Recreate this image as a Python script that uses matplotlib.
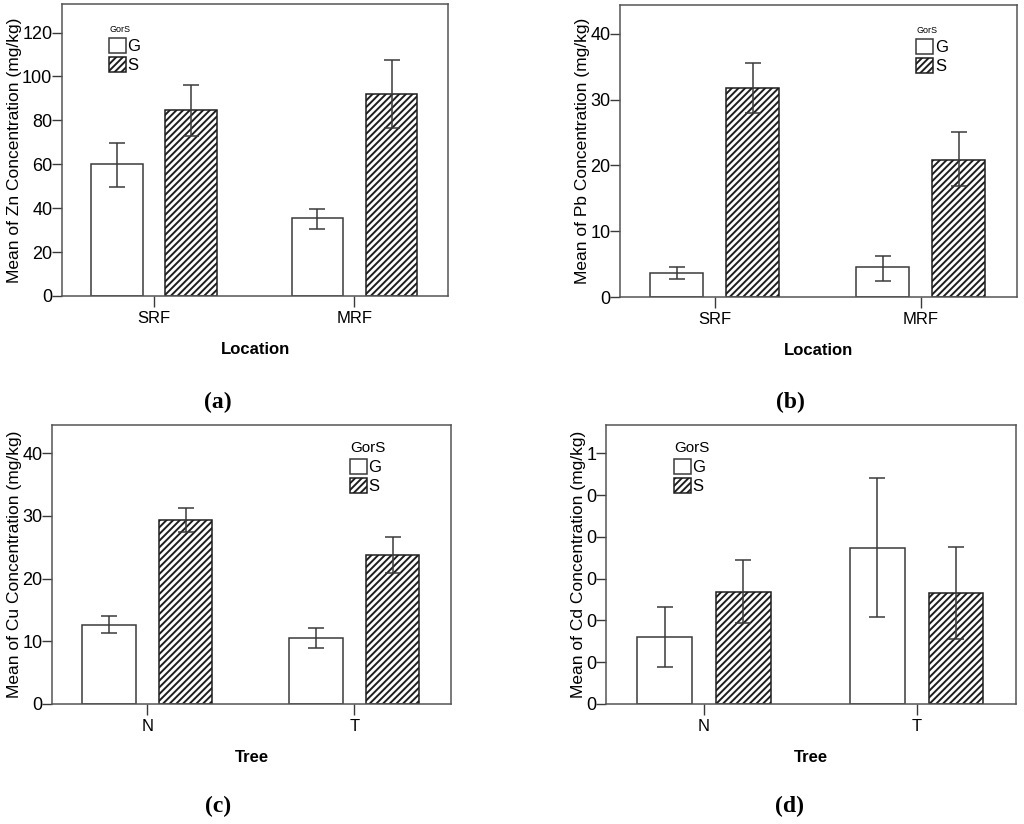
import matplotlib.pyplot as plt
from matplotlib.ticker import FormatStrFormatter
import numpy as np

plt.rcParams['font.family'] = ['Liberation Sans', 'DejaVu Sans']
plt.rcParams['hatch.linewidth'] = 1.4

locations = ['SRF', 'MRF']
trees = ['N', 'T']
groups = ['G', 'S']

# mean, lower CI, upper CI
zn_mean = {'G': [60.0, 35.3], 'S': [84.5, 92.1]}
zn_low = {'G': [49.8, 30.7], 'S': [73.0, 76.6]}
zn_high = {'G': [69.9, 39.7], 'S': [96.0, 107.3]}

pb_mean = {'G': [3.7, 4.5], 'S': [31.8, 20.9]}
pb_low = {'G': [2.7, 2.5], 'S': [28.0, 16.9]}
pb_high = {'G': [4.6, 6.3], 'S': [35.6, 25.1]}

cu_mean = {'G': [12.6, 10.6], 'S': [29.4, 23.7]}
cu_low = {'G': [11.3, 8.9], 'S': [27.4, 20.9]}
cu_high = {'G': [14.0, 12.2], 'S': [31.2, 26.7]}

cd_mean = {'G': [0.161, 0.374], 'S': [0.268, 0.266]}
cd_low = {'G': [0.088, 0.208], 'S': [0.194, 0.155]}
cd_high = {'G': [0.233, 0.540], 'S': [0.344, 0.377]}

EDGE = '#3a3a3a'


def panel(rect, cats, mean, low, high, ylim, yticks, ylabel, xlabel,
          leg_xy, title_size, tag, tag_xy, fmt=None):
    ax = fig.add_axes(rect)
    x = np.arange(len(cats))
    width = 0.257
    offsets = {'G': -0.185, 'S': 0.185}
    for g in groups:
        m = np.array(mean[g])
        err = np.array([m - np.array(low[g]), np.array(high[g]) - m])
        if g == 'S':
            ax.bar(x + offsets[g], m, width, color='white', edgecolor='#1e1e1e',
                   linewidth=1.1, hatch='/////', label=g, zorder=2)
        else:
            ax.bar(x + offsets[g], m, width, color='white', edgecolor=EDGE,
                   linewidth=1.1, label=g, zorder=2)
        ax.errorbar(x + offsets[g], m, yerr=err, fmt='none', ecolor=EDGE,
                    elinewidth=1.1, capsize=6, capthick=1.1, zorder=3)
    ax.set_xlim(-0.46, 1.467)
    ax.set_ylim(*ylim)
    ax.set_yticks(yticks)
    if fmt:
        ax.yaxis.set_major_formatter(FormatStrFormatter(fmt))
    ax.set_xticks(x)
    ax.set_xticklabels(cats, fontsize=12)
    ax.tick_params(axis='y', labelsize=13, length=7, width=1, color=EDGE, pad=0)
    ax.tick_params(axis='x', length=8, width=1, color=EDGE, pad=3)
    for s in ax.spines.values():
        s.set_color('#555555')
        s.set_linewidth(1.1)
    ax.set_ylabel(ylabel, fontsize=12.5, labelpad=0)
    ax.set_xlabel(xlabel, fontsize=12, fontweight='bold', labelpad=11)
    leg = ax.legend(loc='upper left', bbox_to_anchor=leg_xy, frameon=False,
                    title='GorS', title_fontsize=title_size, fontsize=12,
                    handlelength=1.0, handleheight=1.0, handletextpad=0.1,
                    labelspacing=0.2, borderaxespad=0)
    leg._legend_box.align = 'left'
    fig.text(tag_xy[0] / 1024, 1 - tag_xy[1] / 824, tag, fontsize=17,
             fontweight='bold', family='Liberation Serif', ha='center',
             va='center')
    return ax


def rect(l, t, r, b):
    return [l / 1024, 1 - b / 824, (r - l) / 1024, (b - t) / 824]


fig = plt.figure(figsize=(10.24, 8.24), dpi=100)

panel(rect(62, 4, 448, 296), locations, zn_mean, zn_low, zn_high,
      (0, 133), [0, 20, 40, 60, 80, 100, 120],
      'Mean of Zn Concentration (mg/kg)', 'Location',
      (0.105, 0.95), 6.5, '(a)', (218, 402))
panel(rect(620, 5, 1017, 297), locations, pb_mean, pb_low, pb_high,
      (0, 44.4), [0, 10, 20, 30, 40],
      'Mean of Pb Concentration (mg/kg)', 'Location',
      (0.73, 0.95), 6.5, '(b)', (790, 402))
panel(rect(52, 425, 451, 704), trees, cu_mean, cu_low, cu_high,
      (0, 44.5), [0, 10, 20, 30, 40],
      'Mean of Cu Concentration (mg/kg)', 'Tree',
      (0.73, 0.965), 11, '(c)', (218, 806))
panel(rect(606, 425, 1016, 704), trees, cd_mean, cd_low, cd_high,
      (0, 0.668), [0, 0.1, 0.2, 0.3, 0.4, 0.5, 0.6],
      'Mean of Cd Concentration (mg/kg)', 'Tree',
      (0.15, 0.965), 11, '(d)', (790, 806), fmt='%.0f')

fig.savefig('out.png', dpi=100)
